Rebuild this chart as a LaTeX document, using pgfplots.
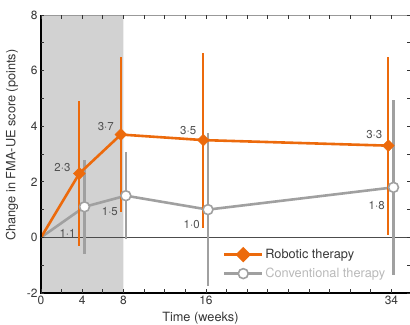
\documentclass[border=0pt]{standalone}
\usepackage{pgfplots}
\pgfplotsset{compat=1.18}
\usepackage{fontspec}
\setmainfont{TeX Gyre Heros}
\definecolor{rob}{RGB}{236,106,12}
\definecolor{conv}{RGB}{160,160,160}
\definecolor{convtxt}{RGB}{185,185,185}
\definecolor{shade}{RGB}{210,210,210}
\definecolor{txt}{RGB}{55,55,55}
\definecolor{lbl}{RGB}{80,80,80}
\begin{document}
\begin{tikzpicture}
\useasboundingbox (-41bp,-32bp) rectangle (369bp,293bp);
\begin{axis}[
  scale only axis, width=369bp, height=278bp,
  xmin=0, xmax=35.8, ymin=-2, ymax=8,
  axis line style={draw=none},
  axis on top,
  clip=false,
  xtick={0,4,8,16,34},
  minor xtick={2,6,10,12,14,18,20,22,24,26,28,30,32,36},
  ytick={-2,0,2,4,6,8},
  minor ytick={-1,1,3,5,7},
  tick align=inside,
  major tick length=3.5bp, minor tick length=3.5bp,
  tick style={black!80, line width=0.7bp},
  /pgf/number format/assume math mode=true,
  tick label style={font=\fontsize{12}{14}\selectfont, text=txt},
  xlabel={Time (weeks)}, ylabel={Change in FMA-UE score (points)},
  label style={font=\fontsize{12.8}{15}\selectfont, text=txt},
  xlabel style={at={(axis description cs:0.432,-0.09)}, anchor=center},
  ylabel style={at={(axis description cs:-0.0786,0.532)}, anchor=center},
  legend style={draw=none, fill=none, at={(axis description cs:0.493,0.165)}, anchor=north west, inner sep=0pt, row sep=4bp, font=\fontsize{12.8}{15}\selectfont, text=txt, /tikz/every even column/.style={column sep=5bp}},
  legend cell align=left,
  legend image code/.code={\draw[mark repeat=2, mark phase=2, #1] plot coordinates {(0bp,0bp) (18.85bp,0bp) (37.7bp,0bp)};},
]
\addplot[fill=shade, draw=none, forget plot] coordinates {(0,-2) (8,-2) (8,8) (0,8) (0,-2)};
\draw[black!70, line width=0.7bp] (axis cs:0,0) -- (axis cs:35.8,0);
% conventional: line + CI
\addplot[conv, line width=2.6bp, forget plot, error bars/.cd, y dir=both, y explicit, error mark=none, error bar style={line width=2.4bp, conv}]
  coordinates {(0,0) (4.22,1.1) +- (0,1.7) (8.23,1.5) +- (0,1.57) (16.2,1.0) +- (0,2.75) (34.2,1.8) +- (0,3.15)};
% robotic: line + CI
\addplot[rob, line width=2.6bp, forget plot, error bars/.cd, y dir=both, y explicit, error mark=none, error bar style={line width=2.0bp, rob}]
  coordinates {(0,0) (3.72,2.3) +- (0,2.6) (7.75,3.7) +- (0,2.8) (15.75,3.5) +- (0,3.15) (33.7,3.3) +- (0,3.2)};
\addplot[only marks, mark=*, mark size=5pt, mark options={fill=white, draw=conv, line width=1.6bp}, forget plot]
  coordinates {(4.22,1.1) (8.23,1.5) (16.2,1.0) (34.2,1.8)};
\addplot[only marks, mark=square*, mark size=4.2pt, mark options={rotate=45, fill=rob, draw=rob}, forget plot]
  coordinates {(3.72,2.3) (7.75,3.7) (15.75,3.5) (33.7,3.3)};
\addlegendimage{rob, line width=2.6bp, mark=square*, mark size=4.2pt, mark options={rotate=45, fill=rob, draw=rob}}
\addlegendentry{Robotic therapy}
\addlegendimage{conv, line width=2.6bp, mark=*, mark size=5pt, mark options={fill=white, draw=conv, line width=1.6bp}}
\addlegendentry{\textcolor{convtxt}{Conventional therapy}}
% value labels
\begin{scope}[every node/.style={font=\fontsize{11.5}{13}\selectfont, text=lbl}]
\node at (axis cs:2.08,2.52) {2·3};
\node at (axis cs:6.29,3.99) {3·7};
\node at (axis cs:14.28,3.85) {3·5};
\node at (axis cs:32.33,3.70) {3·3};
\node at (axis cs:2.57,0.16) {1·1};
\node at (axis cs:6.68,0.94) {1·5};
\node at (axis cs:14.62,0.47) {1·0};
\node at (axis cs:32.57,1.13) {1·8};
\end{scope}
\draw[black!40, line width=0.8bp] (rel axis cs:0,1) -- (rel axis cs:1,1) -- (rel axis cs:1,0);
\draw[black, line width=1.2bp] (rel axis cs:0,1) -- (rel axis cs:0,0) -- (rel axis cs:1,0);
\end{axis}
\end{tikzpicture}
\end{document}
